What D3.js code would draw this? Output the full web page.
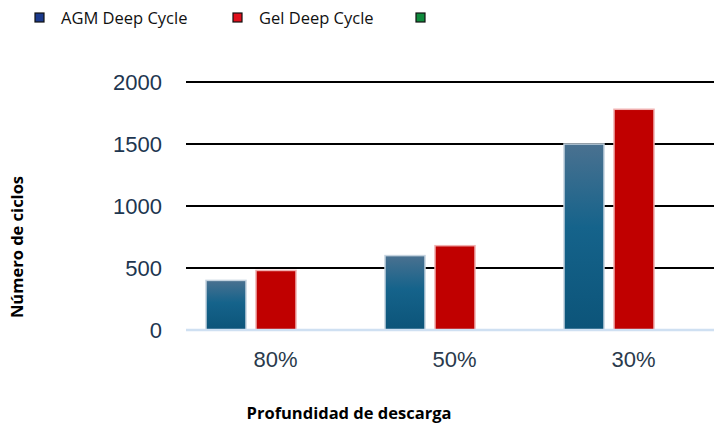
<!DOCTYPE html>
<html>
<head>
<meta charset="utf-8">
<script src="https://cdn.jsdelivr.net/npm/d3@7"></script>
<style>
  body { margin: 0; background: #fff; }
  #chart { width: 714px; height: 430px; }
</style>
</head>
<body>
<div id="chart"></div>
<script>
const categories = ["80%", "50%", "30%"];
const seriesNames = ["AGM Deep Cycle", "Gel Deep Cycle", ""];
const agmValues = [400, 600, 1500];
const gelValues = [480, 680, 1780];
const yTicks = [0, 500, 1000, 1500, 2000];

const legendColors = ["#1b3a8c", "#e0101c", "#0f8a3c"];

const width = 714, height = 430;
const plot = { left: 186, right: 723, top: 82, bottom: 330 };

const svg = d3.select("#chart").append("svg")
  .attr("width", width)
  .attr("height", height);

const defs = svg.append("defs");
const grad = defs.append("linearGradient")
  .attr("id", "agmGrad")
  .attr("x1", 0).attr("y1", 0).attr("x2", 0).attr("y2", 1);
grad.append("stop").attr("offset", "0%").attr("stop-color", "#4a7190");
grad.append("stop").attr("offset", "45%").attr("stop-color", "#15638b");
grad.append("stop").attr("offset", "100%").attr("stop-color", "#0c5479");

const x = d3.scaleBand()
  .domain(categories)
  .range([plot.left, plot.right]);

const xSub = d3.scaleBand()
  .domain([0, 1, 2])
  .range([20, x.bandwidth() - 19])
  .paddingInner(0.2);

const y = d3.scaleLinear()
  .domain([0, 2000])
  .range([plot.bottom, plot.top]);

// gridlines
svg.append("g")
  .selectAll("line")
  .data(yTicks.filter(d => d > 0))
  .enter()
  .append("line")
  .attr("x1", plot.left)
  .attr("x2", width)
  .attr("y1", d => y(d))
  .attr("y2", d => y(d))
  .attr("stroke", "#000")
  .attr("stroke-width", 2);

// bars
const rows = categories.map((c, i) => ({ cat: c, values: [agmValues[i], gelValues[i]] }));

const groups = svg.append("g")
  .selectAll("g")
  .data(rows)
  .enter()
  .append("g")
  .attr("transform", d => `translate(${x(d.cat)},0)`);

groups.selectAll("rect")
  .data(d => d.values.map((v, k) => ({ k, v })))
  .enter()
  .append("rect")
  .attr("x", d => xSub(d.k))
  .attr("y", d => y(d.v))
  .attr("width", xSub.bandwidth())
  .attr("height", d => y(0) - y(d.v))
  .attr("fill", d => d.k === 0 ? "url(#agmGrad)" : "#c00000")
  .attr("stroke", d => d.k === 0 ? "#c5d3df" : "#f0b0b0")
  .attr("stroke-width", 1.5);

// baseline
svg.append("line")
  .attr("x1", plot.left)
  .attr("x2", width)
  .attr("y1", y(0))
  .attr("y2", y(0))
  .attr("stroke", "#cfe0f2")
  .attr("stroke-width", 2.5);

// y axis labels
const yAxis = svg.append("g")
  .attr("transform", `translate(${plot.left - 24},0)`)
  .call(d3.axisLeft(y).tickValues(yTicks).tickFormat(d3.format("d")).tickSize(0).tickPadding(0));
yAxis.select(".domain").remove();
yAxis.selectAll("text")
  .attr("font-family", "'Liberation Sans', Arial, sans-serif")
  .attr("font-size", 22)
  .attr("fill", "#1d3650");

// x axis labels
const xAxis = svg.append("g")
  .attr("transform", `translate(0,${plot.bottom + 21})`)
  .call(d3.axisBottom(x).tickSize(0).tickPadding(0));
xAxis.select(".domain").remove();
xAxis.selectAll("text")
  .attr("font-family", "'Liberation Sans', Arial, sans-serif")
  .attr("font-size", 22)
  .attr("fill", "#2a3a4c");

// axis titles
svg.append("text")
  .attr("transform", "translate(23,247) rotate(-90)")
  .attr("text-anchor", "middle")
  .attr("font-family", "'Open Sans', sans-serif")
  .attr("font-weight", "bold")
  .attr("font-size", 16.5)
  .attr("fill", "#000")
  .text("Número de ciclos");

svg.append("text")
  .attr("x", 349)
  .attr("y", 419)
  .attr("text-anchor", "middle")
  .attr("font-family", "'Open Sans', sans-serif")
  .attr("font-weight", "bold")
  .attr("font-size", 16.5)
  .attr("fill", "#000")
  .text("Profundidad de descarga");

// legend
const legendX = [35, 233, 416];
const legend = svg.append("g")
  .selectAll("g")
  .data(seriesNames)
  .enter()
  .append("g")
  .attr("transform", (d, i) => `translate(${legendX[i]},13)`);

legend.append("rect")
  .attr("width", 9)
  .attr("height", 9)
  .attr("fill", (d, i) => legendColors[i])
  .attr("stroke", "#111")
  .attr("stroke-width", 1.2);

legend.append("text")
  .attr("x", 26)
  .attr("y", 11)
  .attr("font-family", "'Open Sans', sans-serif")
  .attr("font-size", 16.5)
  .attr("fill", "#111")
  .text(d => d);
</script>
</body>
</html>
